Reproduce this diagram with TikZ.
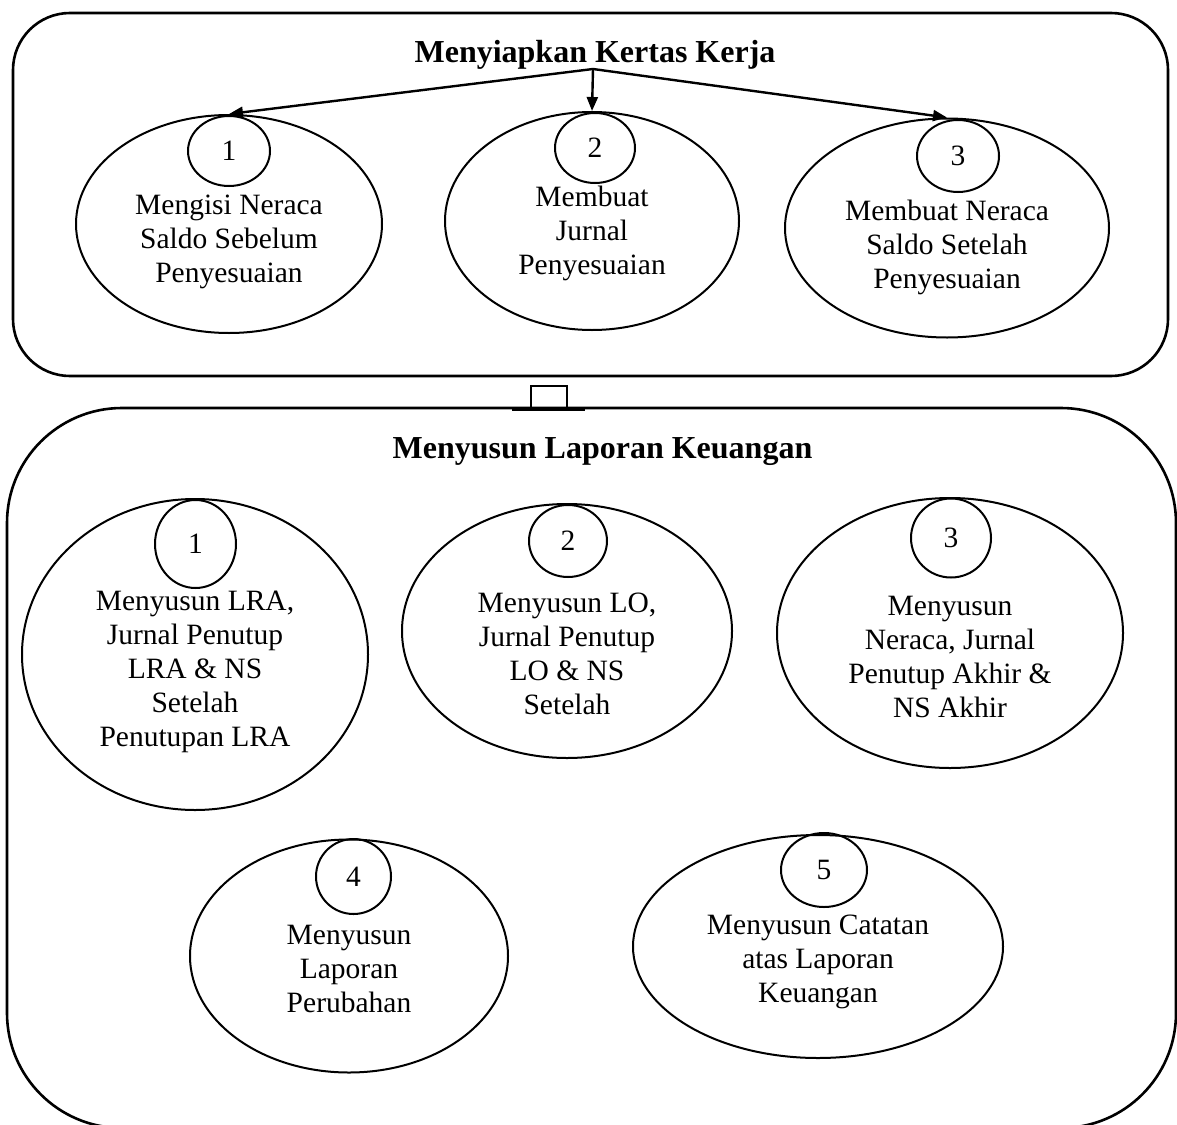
\documentclass[tikz,border=0pt]{standalone}
\usepackage{fontspec}
\setmainfont{Liberation Serif}
\usetikzlibrary{shapes.geometric,arrows.meta,calc}
\begin{document}
\begin{tikzpicture}[x=1pt,y=-1pt,
  bigbox/.style={draw,line width=2.6pt,rectangle,inner sep=0pt},
  oval/.style={draw,line width=2pt,ellipse,inner sep=0pt},
  num/.style={draw,line width=2pt,ellipse,inner sep=0pt,font=\fontsize{29.5}{34}\selectfont},
  txt/.style={align=center,font=\fontsize{29.5}{34}\selectfont,inner sep=0pt},
  ttl/.style={font=\fontsize{32}{38}\selectfont\bfseries,inner sep=0pt,anchor=base},
  arr/.style={line width=2.4pt,-{Triangle[length=14pt,width=11pt]}}]
\useasboundingbox (0,0) rectangle (1177,1124);
\clip (0,0) rectangle (1177,1124);

% boxes
\node[bigbox,rounded corners=57pt,minimum width=1155pt,minimum height=363pt] (box1) at (590.5,194.5) {};
\node[bigbox,rounded corners=115pt,minimum width=1169pt,minimum height=720pt] (box2) at (591.5,768) {};

% connector between boxes
\node[draw,line width=2pt,rectangle,inner sep=0pt,minimum width=36pt,minimum height=22pt] (link) at (549,397) {};
\draw[line width=3.6pt] ($(link.south west)+(-18,0)$) -- ($(link.south east)+(17,0)$);

% titles
\node[ttl] (title1) at (595,63) {Menyiapkan Kertas Kerja};
\node[ttl] (title2) at (602.5,458) {Menyusun Laporan Keuangan};

% top ellipses
\node[oval,minimum width=306pt,minimum height=218pt] (e1) at (229,224) {};
\node[oval,minimum width=294pt,minimum height=218pt] (e2) at (592,221) {};
\node[oval,minimum width=324pt,minimum height=219pt] (e3) at (947,228) {};
\node[num,minimum width=82pt,minimum height=70pt] (n1) at (229,151) {1};
\node[num,minimum width=80pt,minimum height=70pt] (n2) at (595,148) {2};
\node[num,minimum width=82pt,minimum height=72pt] (n3) at (958,156) {3};
\node[txt] (t1) at (229,241.5) {Mengisi Neraca\\Saldo Sebelum\\Penyesuaian};
\node[txt] (t2) at (592,233.5) {Membuat\\Jurnal\\Penyesuaian};
\node[txt] (t3) at (947,247.5) {Membuat Neraca\\Saldo Setelah\\Penyesuaian};

% arrows
\coordinate (src) at (593,69);
\draw[arr] (src) -- (e1.north);
\draw[arr] (src) -- (e2.north);
\draw[arr] (src) -- (e3.north);

% bottom ellipses
\node[oval,minimum width=346pt,minimum height=311pt] (f1) at (195,654.5) {};
\node[oval,minimum width=330pt,minimum height=254pt] (f2) at (567,631) {};
\node[oval,minimum width=346pt,minimum height=270pt] (f3) at (950,633) {};
\node[oval,minimum width=318pt,minimum height=233pt] (f4) at (349,956) {};
\node[oval,minimum width=370pt,minimum height=223pt] (f5) at (818,946.5) {};
\node[num,minimum width=81pt,minimum height=88pt] (m1) at (195.5,544) {1};
\node[num,minimum width=78pt,minimum height=72pt] (m2) at (568,541) {2};
\node[num,minimum width=80pt,minimum height=79pt] (m3) at (951,538) {3};
\node[num,minimum width=75pt,minimum height=75pt] (m4) at (353.5,876.5) {4};
\node[num,minimum width=86pt,minimum height=74pt] (m5) at (824,870) {5};
\node[txt] (u1) at (195,671.5) {Menyusun LRA,\\Jurnal Penutup\\LRA \& NS\\Setelah\\Penutupan LRA};
\node[txt] (u2) at (567,654) {Menyusun LO,\\Jurnal Penutup\\LO \& NS\\Setelah};
\node[txt] (u3) at (950,657) {Menyusun\\Neraca, Jurnal\\Penutup Akhir \&\\NS Akhir};
\node[txt] (u4) at (349,968.5) {Menyusun\\Laporan\\Perubahan};
\node[txt] (u5) at (818,961.5) {Menyusun Catatan\\atas Laporan\\Keuangan};
\end{tikzpicture}
\end{document}
